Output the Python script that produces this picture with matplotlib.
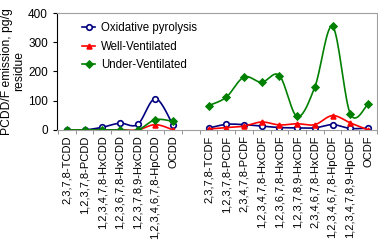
import numpy as np
import matplotlib
matplotlib.use("Agg")
import matplotlib.pyplot as plt

plt.rcParams['font.family'] = ['Liberation Sans', 'DejaVu Sans']

pcdd = ['2,3,7,8-TCDD', '1,2,3,7,8-PCDD', '1,2,3,4,7,8-HxCDD', '1,2,3,6,7,8-HxCDD',
        '1,2,3,7,8,9-HxCDD', '1,2,3,4,6,7,8-HpCDD', 'OCDD']
pcdf = ['2,3,7,8-TCDF', '1,2,3,7,8-PCDF', '2,3,4,7,8-PCDF', '1,2,3,4,7,8-HxCDF',
        '1,2,3,6,7,8-HxCDF', '1,2,3,7,8,9-HxCDF', '2,3,4,6,7,8-HxCDF',
        '1,2,3,4,6,7,8-HpCDF', '1,2,3,4,7,8,9-HpCDF', 'OCDF']

oxid_dd = [0, 0, 9, 23, 19, 107, 16]
well_dd = [0, 0, 0, 0, 0, 18, 0]
under_dd = [0, 0, 0, 0, 0, 35, 29]

oxid_df = [6, 19, 18, 13, 8, 7, 7, 18, 5, 6]
well_df = [3, 8, 13, 27, 17, 21, 18, 49, 24, 0]
under_df = [83, 112, 181, 163, 186, 46, 147, 354, 55, 88]


def smooth(x, y, n=20):
    # catmull-rom style curve, like excel's smoothed lines
    x = np.asarray(x, float)
    y = np.asarray(y, float)
    xs, ys = [], []
    for i in range(len(x) - 1):
        p0 = (x[i - 1], y[i - 1]) if i > 0 else (x[i], y[i])
        p1 = (x[i], y[i])
        p2 = (x[i + 1], y[i + 1])
        p3 = (x[i + 2], y[i + 2]) if i + 2 < len(x) else (x[i + 1], y[i + 1])
        t = np.linspace(0, 1, n)
        for k, (a, b, c, d) in enumerate([(p0[0], p1[0], p2[0], p3[0]),
                                          (p0[1], p1[1], p2[1], p3[1])]):
            b1 = b + (c - a) / 6
            b2 = c - (d - b) / 6
            v = (1 - t) ** 3 * b + 3 * (1 - t) ** 2 * t * b1 + 3 * (1 - t) * t ** 2 * b2 + t ** 3 * c
            (xs if k == 0 else ys).append(v)
    return np.concatenate(xs), np.concatenate(ys)


x_dd = np.arange(len(pcdd))
x_df = np.arange(len(pcdf)) + len(pcdd) + 1

fig = plt.figure(figsize=(3.78, 2.41), dpi=100)
ax = fig.add_axes([0.151, 0.461, 0.846, 0.485])

series = [
    ("Oxidative pyrolysis", oxid_dd, oxid_df, '#000080', 'o', 'white', 4),
    ("Well-Ventilated", well_dd, well_df, '#ff0000', '^', '#ff0000', 3.5),
    ("Under-Ventilated", under_dd, under_df, '#008000', 'D', '#008000', 3.5),
]
for name, ydd, ydf, col, mk, fc, ms in series:
    for xx, yy in [(x_dd, ydd), (x_df, ydf)]:
        sx, sy = smooth(xx, yy)
        ax.plot(sx, sy, color=col, lw=1.2)
        ax.plot(xx, yy, ls='none', marker=mk, color=col, mfc=fc, mec=col, ms=ms, mew=1.2)
    ax.plot([], [], color=col, lw=1.2, marker=mk, mfc=fc, mec=col, ms=ms, mew=1.2, label=name)

ax.set_ylim(0, 400)
ax.set_yticks([0, 100, 200, 300, 400])
ax.set_xlim(-0.55, len(pcdd) + len(pcdf) + 0.5)
ax.set_xticks(np.concatenate([x_dd, x_df]))
ax.set_xticklabels(pcdd + pcdf, rotation=90, fontsize=8)
ax.tick_params(axis='x', length=0, pad=4)
ax.set_xticks(np.arange(-0.5, len(pcdd) + len(pcdf) + 1, 1), minor=True)
ax.tick_params(axis='x', which='minor', length=3, color='#808080', direction='out')
ax.tick_params(axis='y', labelsize=8.5, length=3, direction='out')
ax.set_ylabel("PCDD/F emission, pg/g\nresidue", fontsize=8.7, labelpad=2, linespacing=1.05)

ax.spines['left'].set_color('black')
for s in ['top', 'right', 'bottom']:
    ax.spines[s].set_color('#a0a0a0')

ax.legend(loc='upper left', bbox_to_anchor=(0.065, 0.96), frameon=False, fontsize=8.3,
          handlelength=1.1, handletextpad=0.5, labelspacing=0.55, borderaxespad=0)

fig.savefig("out.png", dpi=100)
